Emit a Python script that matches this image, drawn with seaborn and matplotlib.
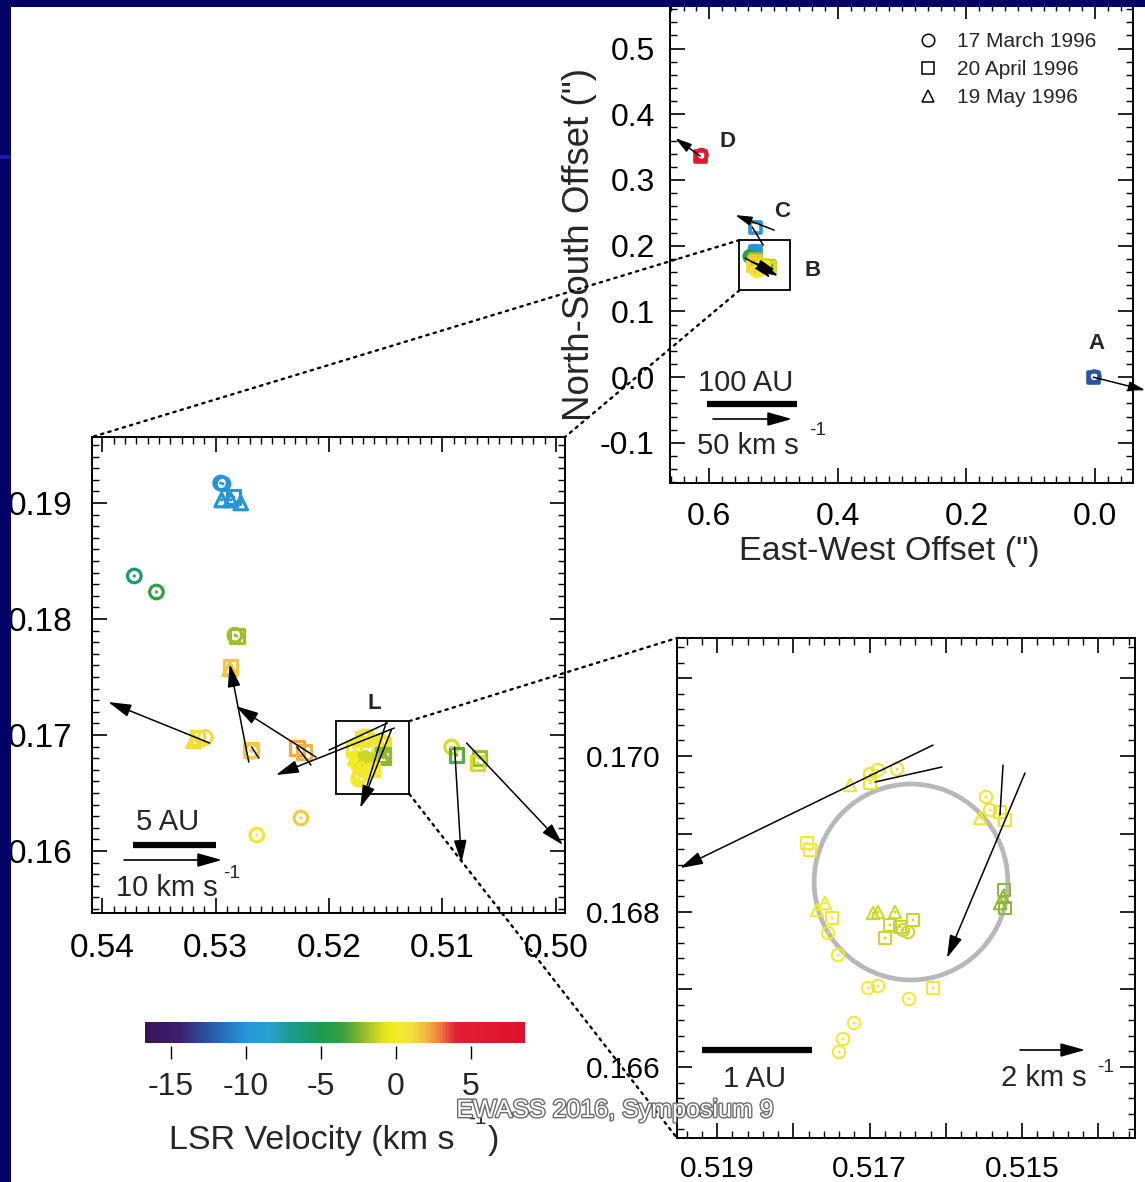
import numpy as np
import pandas as pd
import matplotlib
matplotlib.use("Agg")
import matplotlib.pyplot as plt
import seaborn as sns
from matplotlib.colors import LinearSegmentedColormap, Normalize
from matplotlib.patches import Rectangle, Ellipse, ConnectionPatch
from matplotlib.lines import Line2D
from matplotlib.ticker import MultipleLocator, FuncFormatter
import matplotlib.patheffects as pe

# ---------------------------------------------------------------- data
# maser spots: East-West offset ("), North-South offset ("), LSR velocity (km/s),
# epoch (0 = 17 March 1996 circle, 1 = 20 April 1996 square, 2 = 19 May 1996 triangle)
ew_wide = [0.614, 0.612, 0.528, 0.003, 0.001]
ns_wide = [0.336, 0.338, 0.227, 0.000, 0.001]
vel_wide = [6.0, 6.0, -10.0, -12.5, -12.5]
ep_wide = [1, 0, 1, 1, 0]

ew_b = [0.52956, 0.52935, 0.52947, 0.52867, 0.52779, 0.52841, 0.53717, 0.53522,
        0.52814, 0.52830, 0.52867, 0.52875, 0.53159, 0.53195, 0.53090, 0.52690,
        0.52680, 0.52283, 0.52220, 0.52248, 0.52637, 0.50920, 0.50876, 0.50673, 0.50690]
ns_b = [0.19172, 0.19165, 0.19026, 0.19026, 0.19000, 0.19052, 0.18371, 0.18233,
        0.17853, 0.17860, 0.17586, 0.17570, 0.16974, 0.16950, 0.16980, 0.16871,
        0.16860, 0.16888, 0.16855, 0.16285, 0.16138, 0.16897, 0.16828, 0.16802, 0.16760]
vel_b = [-10, -10, -10, -10, -10, -10, -6, -4, -2, -2, 1.6, 1.6, 1.2, 1.2, 1.2, 1.5,
         1.5, 2.2, 2.0, 1.5, 0.7, -1.0, -3.0, -2.0, -1.0]
ep_b = [0, 0, 2, 2, 2, 1, 0, 0, 1, 0, 1, 2, 1, 2, 0, 1, 0, 1, 1, 0, 0, 0, 1, 1, 1]

ew_l = [0.517256, 0.516993, 0.516889, 0.516993, 0.516639, 0.515472, 0.515420, 0.515289,
        0.515223, 0.515551, 0.517820, 0.517780, 0.515289, 0.515250, 0.515236, 0.515223,
        0.517689, 0.517584, 0.517492, 0.517544, 0.517413, 0.516954, 0.516889, 0.516666,
        0.516731, 0.516430, 0.516797, 0.516561, 0.516495, 0.516600, 0.517020, 0.516889,
        0.516482, 0.516167, 0.517203, 0.517348, 0.517400]
ns_l = [0.169627, 0.169768, 0.169820, 0.169653, 0.169833, 0.169473, 0.169305, 0.169280,
        0.169177, 0.169203, 0.168881, 0.168790, 0.168109, 0.168186, 0.168277, 0.168045,
        0.168019, 0.168109, 0.167916, 0.167723, 0.167440, 0.167981, 0.167994, 0.167994,
        0.167826, 0.167891, 0.167659, 0.167762, 0.167736, 0.167801, 0.167016, 0.167042,
        0.166875, 0.167016, 0.166566, 0.166360, 0.166193]
vel_l = [-0.3, -0.3, -0.3, -0.3, -0.3, -0.3, -0.3, -0.3, -0.3, -0.3, 0.2, 0.2,
         -2.2, -2.2, -2.2, -2.2, 0.0, 0.0, 0.0, 0.0, 0.0, -1.2, -1.2, -1.2, -1.2,
         -1.2, -1.2, -1.2, -1.2, -1.2, 0.3, 0.3, 0.3, 0.3, 0.3, 0.3, 0.3]
ep_l = [2, 0, 0, 1, 0, 0, 0, 1, 1, 2, 1, 1, 2, 2, 1, 1, 2, 2, 1, 0, 0,
        2, 2, 2, 1, 1, 1, 0, 0, 1, 0, 0, 0, 1, 0, 0, 0]

epoch_names = ["17 March 1996", "20 April 1996", "19 May 1996"]

# proper-motion vectors per panel: tail (x, y), displacement (dx, dy), arrow head?
vec1_x = [0.614, 0.4989, 0.0028, 0.544, 0.5331, 0.5238, 0.516]
vec1_y = [0.3364, 0.2237, 0.0, 0.1811, 0.175, 0.1705, 0.2009]
vec1_dx = [0.0389, 0.0607, -0.0809, -0.0513, -0.0357, -0.0187, 0.0171]
vec1_dy = [0.0274, 0.0229, -0.0198, -0.0274, -0.0121, -0.0198, 0.0274]
vec1_head = [True, True, True, True, True, True, False]

vec2_x = [0.530531, 0.527080, 0.521150, 0.514248, 0.514513, 0.508938, 0.507876,
          0.514867, 0.514956, 0.526814, 0.522832]
vec2_y = [0.169310, 0.167672, 0.168103, 0.170603, 0.170431, 0.168966, 0.169310,
          0.171034, 0.171121, 0.168966, 0.168966]
vec2_dx = [0.008938, 0.001681, 0.007080, 0.010442, 0.002744, -0.000619, -0.008495,
           0.005133, 0.001681, -0.000619, -0.001239]
vec2_dy = [0.003535, 0.008449, 0.004397, -0.004051, -0.006724, -0.010000, -0.008793,
           -0.002327, -0.005431, -0.000949, -0.001552]
vec2_head = [True, True, True, True, True, True, True, False, False, False, False]

vec3_x = [0.516167, 0.514961, 0.516049, 0.515249]
vec3_y = [0.170141, 0.169781, 0.169859, 0.169884]
vec3_dx = [0.003318, 0.001023, 0.000879, 0.000040]
vec3_dy = [-0.001582, -0.002379, -0.000193, -0.000643]
vec3_head = [True, True, False, False]

# fitted ring in the zoomed panel (centre x, centre y, diameter x, diameter y)
ring = [0.516456, 0.168380, 0.00254, 0.00252]

# labels of maser regions
reg_names = ["D", "C", "B", "A"]
reg_x = [0.572, 0.4865, 0.4398, -0.0019]
reg_y = [0.3592, 0.2527, 0.1629, 0.0518]
box_B = [0.553, 0.474, 0.132, 0.2085]       # x_left, x_right, y_bottom, y_top
box_L = [0.51938, 0.51292, 0.16491, 0.1712]
label_L = (0.516018, 0.172759)

cbar_ticks = [-15, -10, -5, 0, 5]
vel_range = (-16.7, 8.6)

# ---------------------------------------------------------------- style
sns.set_style("ticks")
plt.rcParams["font.family"] = ["Liberation Sans", "DejaVu Sans"]
plt.rcParams["axes.unicode_minus"] = False

W, H = 1145, 1182


def box(l, t, r, b):
    return [l / W, 1 - b / H, (r - l) / W, (b - t) / H]


vel_stops = [-16.7, -14.5, -12.3, -10.0, -8.5, -7.2, -5.0, -3.5, -2.2, -0.9, 0.0,
             1.1, 2.3, 3.0, 4.0, 8.6]
col_stops = ["#3a1458", "#3a1f6e", "#2a5aa8", "#2596d8", "#2aa0d0", "#1f9a98",
             "#1a9a50", "#3aa040", "#90b830", "#e0e020", "#f4ec20", "#f5e040",
             "#f0a840", "#f07840", "#e02035", "#e0102a"]
norm = Normalize(*vel_range)
cmap = LinearSegmentedColormap.from_list(
    "lsr", list(zip([float(norm(v)) for v in vel_stops], col_stops)))

df = pd.DataFrame({
    "ew": ew_wide + ew_b + ew_l,
    "ns": ns_wide + ns_b + ns_l,
    "vel": vel_wide + vel_b + vel_l,
    "epoch": ep_wide + ep_b + ep_l,
})
MARKERS = {0: "o", 1: "s", 2: "^"}

fig = plt.figure(figsize=(W / 100, H / 100), dpi=100)
fig.patch.set_facecolor("#000066")
fig.add_artist(Rectangle((11 / W, 0), 1, 1 - 7 / H, transform=fig.transFigure,
                         facecolor="white", edgecolor="none", zorder=-10))


def style_axes(ax, fs, xpad, ypad):
    ax.set_facecolor("white")
    for s in ax.spines.values():
        s.set_visible(True)
        s.set_linewidth(1.4)
        s.set_color("black")
    ax.tick_params(which="both", direction="in", top=True, right=True,
                   bottom=True, left=True, color="black", labelcolor="black")
    ax.tick_params(which="major", length=10.5, width=1.2, labelsize=fs)
    ax.tick_params(which="minor", length=5.2, width=1.0)
    ax.tick_params(axis="x", pad=xpad)
    ax.tick_params(axis="y", pad=ypad)
    ax.grid(False)
    ax.set_xlabel("")
    ax.set_ylabel("")


def draw_points(ax, size, lw, dot):
    sns.scatterplot(data=df, x="ew", y="ns", hue="vel", style="epoch",
                    markers=MARKERS, palette=cmap, hue_norm=norm, s=size,
                    legend=False, ax=ax, zorder=3)
    coll = ax.collections[-1]
    fc = coll.get_facecolors()
    coll.set_edgecolors(fc)
    coll.set_facecolors("none")
    coll.set_linewidths(lw)
    if dot:
        sns.scatterplot(data=df, x="ew", y="ns", hue="vel", palette=cmap,
                        hue_norm=norm, s=dot, marker="o", linewidth=0,
                        legend=False, ax=ax, zorder=3)


def draw_vectors(ax, xs, ys, dxs, dys, heads, ms):
    for x, y, dx, dy, h in zip(xs, ys, dxs, dys, heads):
        style = "-|>,head_length=1.0,head_width=0.28" if h else "-"
        ax.annotate("", xy=(x + dx, y + dy), xytext=(x, y), xycoords="data",
                    arrowprops=dict(arrowstyle=style, color="black", lw=1.1,
                                    shrinkA=0, shrinkB=0, mutation_scale=ms),
                    annotation_clip=False, zorder=5)


def scale_bar(ax, bx0, bx1, by, ax0, ax1_, ay, txt1, t1, txt2, t2, sup, fs):
    ax.plot([bx0, bx1], [by, by], transform=ax.transAxes, color="black", lw=4.5,
            solid_capstyle="butt", zorder=6)
    ax.annotate("", xy=(ax1_, ay), xytext=(ax0, ay), xycoords="axes fraction",
                arrowprops=dict(arrowstyle="-|>,head_length=1.0,head_width=0.28",
                                color="black", lw=1.2, shrinkA=0, shrinkB=0,
                                mutation_scale=15), zorder=6)
    ax.text(t1[0], t1[1], txt1, transform=ax.transAxes, ha="center", va="center",
            fontsize=fs)
    ax.text(t2[0], t2[1], txt2, transform=ax.transAxes, ha="center", va="center",
            fontsize=fs)
    ax.text(sup[0], sup[1], "-1", transform=ax.transAxes, ha="center", va="center",
            fontsize=fs * 0.65)


# ---------------------------------------------------------------- panel 1
ax1 = fig.add_axes(box(670, 4, 1133, 483))
draw_points(ax1, 62, 2.6, 0)
draw_vectors(ax1, vec1_x, vec1_y, vec1_dx, vec1_dy, vec1_head, 10)
ax1.set_xlim(0.661, -0.059)
ax1.set_ylim(-0.161, 0.5677)
style_axes(ax1, 23, 13.5, 11)
ax1.xaxis.set_major_locator(MultipleLocator(0.2))
ax1.xaxis.set_minor_locator(MultipleLocator(0.02))
ax1.yaxis.set_major_locator(MultipleLocator(0.1))
ax1.yaxis.set_minor_locator(MultipleLocator(0.02))
f1 = FuncFormatter(lambda v, p: "0.0" if abs(v) < 1e-9 else f"{v:.1f}")
ax1.xaxis.set_major_formatter(f1)
ax1.yaxis.set_major_formatter(f1)
ax1.set_xlabel('East-West Offset (")', fontsize=24.5)
ax1.set_ylabel('North-South Offset (")', fontsize=26.5)
ax1.xaxis.set_label_coords(0.473, -0.11)
ax1.yaxis.set_label_coords(-0.158, 0.497)
ax1.add_patch(Rectangle((box_B[0], box_B[2]), box_B[1] - box_B[0], box_B[3] - box_B[2],
                        fill=False, edgecolor="black", lw=1.3, zorder=6))
for n, x, y in zip(reg_names, reg_x, reg_y):
    ax1.text(x, y, n, fontsize=16, fontweight="bold", ha="center", va="center")
handles = [Line2D([], [], marker=MARKERS[k], ls="none", mfc="none", mec="black",
                  mew=1.1, ms=9) for k in range(3)]
ax1.legend(handles, epoch_names, loc="upper left", bbox_to_anchor=(0.5356, 0.9415),
           frameon=False, fontsize=15, handlelength=1.0, handletextpad=0.85,
           labelspacing=0.43, borderpad=0, borderaxespad=0)
scale_bar(ax1, 0.080, 0.274, 0.165, 0.093, 0.2635, 0.1336,
          "100 AU", (0.164, 0.2088), "50 km s", (0.1685, 0.0773), (0.3197, 0.1106), 21)

# ---------------------------------------------------------------- panel 2
ax2 = fig.add_axes(box(92, 437, 565, 913))
draw_points(ax2, 95, 2.3, 5)
draw_vectors(ax2, vec2_x, vec2_y, vec2_dx, vec2_dy, vec2_head, 14)
ax2.set_xlim(0.5409, 0.4992)
ax2.set_ylim(0.15466, 0.19569)
style_axes(ax2, 24, 14.5, 14)
ax2.xaxis.set_major_locator(MultipleLocator(0.01))
ax2.xaxis.set_minor_locator(MultipleLocator(0.001))
ax2.yaxis.set_major_locator(MultipleLocator(0.01))
ax2.yaxis.set_minor_locator(MultipleLocator(0.001))
f2 = FuncFormatter(lambda v, p: f"{v:.2f}")
ax2.xaxis.set_major_formatter(f2)
ax2.yaxis.set_major_formatter(f2)
ax2.add_patch(Rectangle((box_L[0], box_L[2]), box_L[1] - box_L[0], box_L[3] - box_L[2],
                        fill=False, edgecolor="black", lw=1.3, zorder=6))
ax2.text(label_L[0], label_L[1], "L", fontsize=16, fontweight="bold",
         ha="center", va="center")
scale_bar(ax2, 0.0867, 0.2622, 0.1429, 0.0677, 0.2748, 0.1113,
          "5 AU", (0.1607, 0.192), "10 km s", (0.1586, 0.0526), (0.296, 0.082), 21)

# ---------------------------------------------------------------- panel 3
ax3 = fig.add_axes(box(677, 638, 1135, 1138))
ax3.add_patch(Ellipse((ring[0], ring[1]), ring[2], ring[3], fill=False,
                      edgecolor="#b8b8b8", lw=3.4, zorder=2))
draw_points(ax3, 80, 1.4, 4)
draw_vectors(ax3, vec3_x, vec3_y, vec3_dx, vec3_dy, vec3_head, 14)
ax3.set_xlim(0.519525, 0.513518)
ax3.set_ylim(0.165087, 0.171518)
style_axes(ax3, 21.5, 12, 12)
ax3.xaxis.set_major_locator(MultipleLocator(0.001))
ax3.xaxis.set_minor_locator(MultipleLocator(0.0002))
ax3.yaxis.set_major_locator(MultipleLocator(0.001))
ax3.yaxis.set_minor_locator(MultipleLocator(0.0002))
ax3.xaxis.set_major_formatter(FuncFormatter(
    lambda v, p: f"{v:.3f}" if int(round(v * 1000)) % 2 == 1 else ""))
ax3.yaxis.set_major_formatter(FuncFormatter(
    lambda v, p: f"{v:.3f}" if int(round(v * 1000)) % 2 == 0 else ""))
scale_bar(ax3, 0.0546, 0.2948, 0.176, 0.749, 0.891, 0.176,
          "1 AU", (0.1703, 0.118), "2 km s", (0.801, 0.12), (0.9367, 0.142), 21)

# ---------------------------------------------------------------- zoom connectors
for xyA, xyB, axA, axB in [((box_B[0], box_B[3]), (0, 1), ax1, ax2),
                           ((box_B[0], box_B[2]), (1, 1), ax1, ax2),
                           ((box_L[1], box_L[3]), (0, 1), ax2, ax3),
                           ((box_L[1], box_L[2]), (0, 0), ax2, ax3)]:
    con = ConnectionPatch(xyA=xyA, coordsA=axA.transData, xyB=xyB,
                          coordsB=axB.transAxes, linestyle=(0, (1, 2.2)),
                          lw=1.7, color="black", zorder=15)
    fig.add_artist(con)

# ---------------------------------------------------------------- colour bar
cax = fig.add_axes(box(145, 1022, 525, 1043))
sm = plt.cm.ScalarMappable(norm=norm, cmap=cmap)
cb = fig.colorbar(sm, cax=cax, orientation="horizontal")
cb.outline.set_visible(False)
cb.set_ticks([])
cax.minorticks_off()

tax = fig.add_axes(box(145, 1046, 525, 1059))
tax.set_xlim(*vel_range)
tax.set_ylim(0, 1)
tax.patch.set_visible(False)
for s in tax.spines.values():
    s.set_visible(False)
tax.set_yticks([])
tax.set_xticks(cbar_ticks)
tax.set_xticklabels([str(t) for t in cbar_ticks])
tax.tick_params(axis="x", direction="in", length=9.4, width=1.0, labelsize=23,
                pad=9.5, bottom=True, top=False, color="black")
tax.grid(False)

fig.text(169 / W, 1 - 1140 / H, "LSR Velocity (km s", fontsize=24.5, ha="left",
         va="center")
fig.text(488 / W, 1 - 1140 / H, ")", fontsize=24.5, ha="left", va="center")
fig.text(468 / W, 1 - 1118 / H, "-1", fontsize=15, ha="left", va="center")

fig.text(615 / W, 1 - 1110 / H, "EWASS 2016, Symposium 9", color="white",
         fontsize=18, ha="center", va="center", zorder=30,
         path_effects=[pe.withStroke(linewidth=2.0, foreground="#6a6a6a")])

# slide border on top
fig.add_artist(Rectangle((0, 0), 11 / W, 1, transform=fig.transFigure,
                         facecolor="#000066", edgecolor="none", zorder=40))
fig.add_artist(Rectangle((0, 1 - 7 / H), 1, 7 / H, transform=fig.transFigure,
                         facecolor="#000066", edgecolor="none", zorder=40))
fig.add_artist(Rectangle((0, 1 - 159 / H), 11 / W, 4 / H, transform=fig.transFigure,
                         facecolor="#1a1aa8", edgecolor="none", zorder=41))

fig.savefig("out.png", dpi=100, facecolor=fig.get_facecolor())
